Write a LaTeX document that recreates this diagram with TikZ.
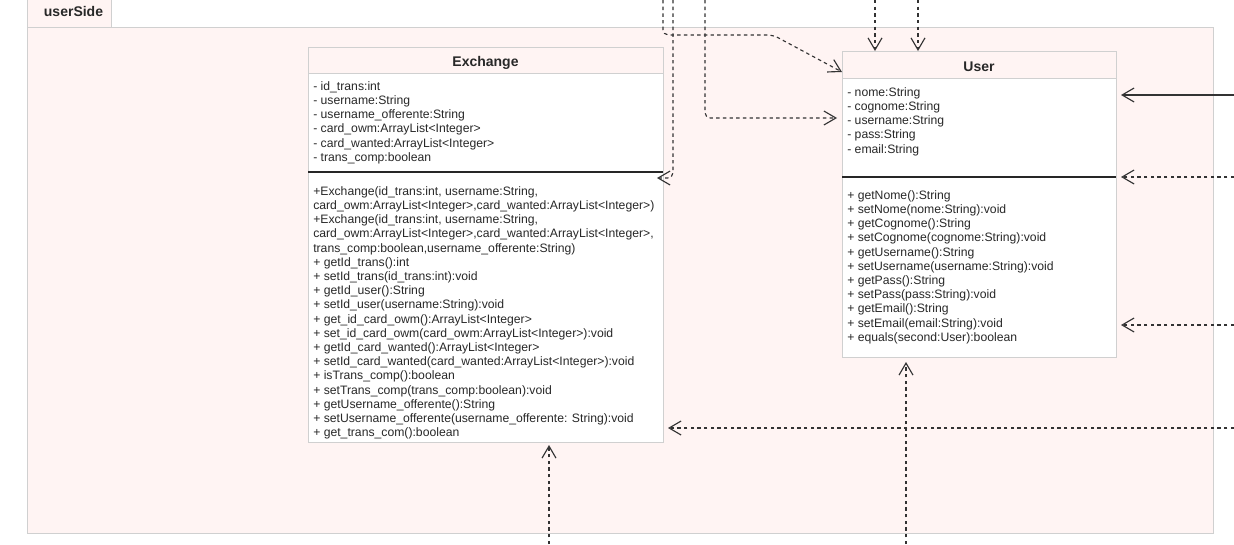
\documentclass[tikz,border=0pt]{standalone}
\usepackage{fontspec}
\setmainfont{Liberation Sans}
\usetikzlibrary{arrows.meta}
\definecolor{pinkbg}{RGB}{255,244,243}
\definecolor{frame}{RGB}{208,208,208}
\definecolor{ink}{RGB}{40,40,40}
\definecolor{wire}{RGB}{51,51,51}
\newcommand{\fl}{\rule{0pt}{9pt}}
\begin{document}
\begin{tikzpicture}[x=0.75pt,y=-0.75pt,
  body/.style={font=\fontsize{9.15}{10.65}\selectfont, text=ink, align=left, anchor=north west, inner sep=0pt},
  title/.style={font=\fontsize{10.5}{12}\selectfont\bfseries, text=ink, inner sep=0pt, anchor=base},
  classbox/.style={draw=frame, fill=white, line width=0.75pt, inner sep=0pt, anchor=north west},
  sepline/.style={draw=black!85, line width=1.1pt},
  dep/.style={draw=wire, line width=0.85pt, dash pattern=on 2.6pt off 2.4pt, -{Straight Barb[length=9pt,width=10.5pt]}, rounded corners=4pt},
  assoc/.style={draw=wire, line width=0.85pt, -{Straight Barb[length=9pt,width=10.5pt]}},
]
\useasboundingbox (0,0) rectangle (1234,544);
% cluster
\path[fill=pinkbg, draw=frame, line width=0.75pt] (27,27) rectangle (1213,533);
\path[fill=pinkbg, draw=frame, line width=0.75pt] (27,-1) rectangle (111,27);
\node[title] (tab) at (73.5,16) {userSide};

% Exchange class
\node[classbox, minimum width=266.25pt, minimum height=296.25pt] (ex) at (308,47) {};
\fill[pinkbg] ([shift={(0.5,0.5)}]ex.north west) rectangle (662.5,73);
\draw[frame, line width=0.75pt] (308,73) -- (663,73);
\draw[sepline] (308,172) -- (663,172);
\node[title] (exT) at (485.5,66) {Exchange};
\node[body] (exA) at (313,78) {\fl- id\_trans:int\\
- username:String\\
- username\_offerente:String\\
- card\_owm:ArrayList<Integer>\\
- card\_wanted:ArrayList<Integer>\\
- trans\_comp:boolean};
\node[body] (exM) at (313,183) {\fl+Exchange(id\_trans:int, username:String,\\
card\_owm:ArrayList<Integer>,card\_wanted:ArrayList<Integer>)\\
+Exchange(id\_trans:int, username:String,\\
card\_owm:ArrayList<Integer>,card\_wanted:ArrayList<Integer>,\\
trans\_comp:boolean,username\_offerente:String)\\
+ getId\_trans():int\\
+ setId\_trans(id\_trans:int):void\\
+ getId\_user():String\\
+ setId\_user(username:String):void\\
+ get\_id\_card\_owm():ArrayList<Integer>\\
+ set\_id\_card\_owm(card\_owm:ArrayList<Integer>):void\\
+ getId\_card\_wanted():ArrayList<Integer>\\
+ setId\_card\_wanted(card\_wanted:ArrayList<Integer>):void\\
+ isTrans\_comp():boolean\\
+ setTrans\_comp(trans\_comp:boolean):void\\
+ getUsername\_offerente():String\\
+ setUsername\_offerente(username\_offerente: String):void\\
+ get\_trans\_com():boolean};

% User class
\node[classbox, minimum width=205.5pt, minimum height=229.5pt] (usr) at (842,51) {};
\fill[pinkbg] ([shift={(0.5,0.5)}]usr.north west) rectangle (1115.5,78);
\draw[frame, line width=0.75pt] (842,78) -- (1116,78);
\draw[sepline] (842,177) -- (1116,177);
\node[title] (usrT) at (979,71) {User};
\node[body] (usrA) at (847,84) {\fl- nome:String\\
- cognome:String\\
- username:String\\
- pass:String\\
- email:String};
\node[body] (usrM) at (847,187) {\fl+ getNome():String\\
+ setNome(nome:String):void\\
+ getCognome():String\\
+ setCognome(cognome:String):void\\
+ getUsername():String\\
+ setUsername(username:String):void\\
+ getPass():String\\
+ setPass(pass:String):void\\
+ getEmail():String\\
+ setEmail(email:String):void\\
+ equals(second:User):boolean};

% free ends of connectors
\coordinate (t1) at (663,0);
\coordinate (t2) at (673,0);
\coordinate (t3) at (705,0);
\coordinate (t4) at (875,0);
\coordinate (t5) at (918,0);
\coordinate (r1) at (1234,95);
\coordinate (r2) at (1234,177);
\coordinate (r3) at (1234,325);
\coordinate (r4) at (1234,428);
\coordinate (b1) at (549,544);
\coordinate (b2) at (906,544);

% connectors
\draw[dep] (t1) -- ++(0,35) -- (773,35) -- ([yshift=-15.75pt]usr.north west);
\draw[dep] (t2) |- ([xshift=-5.25pt,yshift=-98.25pt]ex.north east);
\draw[dep] (t3) |- ([xshift=-3.75pt,yshift=-50.25pt]usr.north west);
\draw[dep] (t4) -- (t4 |- usr.north);
\draw[dep] (t5) -- (t5 |- usr.north);
\draw[assoc] (r1) -- ([xshift=3pt]usr.east |- r1);
\draw[dep] (r2) -- ([xshift=3pt]usr.east |- r2);
\draw[dep] (r3) -- ([xshift=3pt]usr.east |- r3);
\draw[dep] (r4) -- ([xshift=3pt]ex.east |- r4);
\draw[dep] (b1) -- ([yshift=-1.5pt]ex.south -| b1);
\draw[dep] (b2) -- ([yshift=-3pt]usr.south -| b2);
\end{tikzpicture}
\end{document}
